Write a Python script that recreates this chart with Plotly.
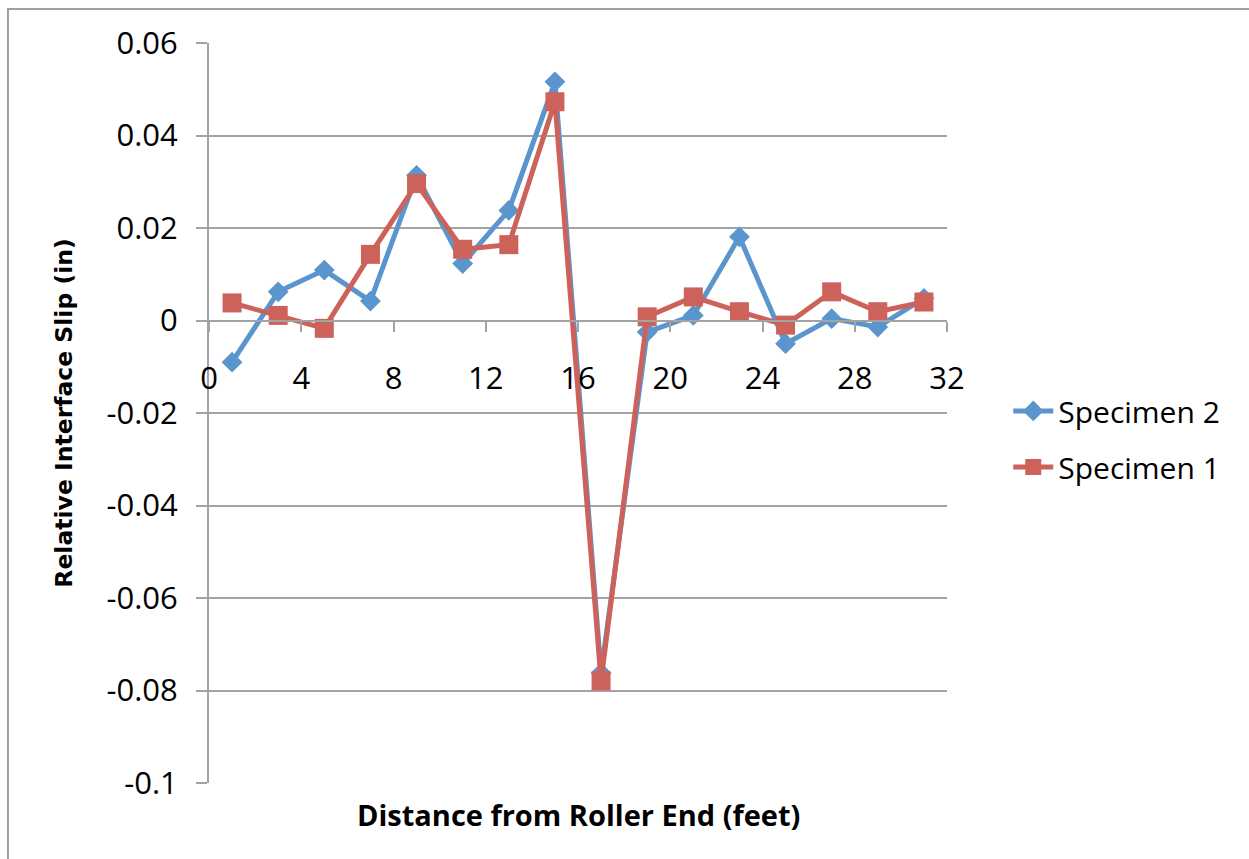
import plotly.graph_objects as go

# Station positions along the girder (feet from the roller end)
distance_ft = [1, 3, 5, 7, 9, 11, 13, 15, 17, 19, 21, 23, 25, 27, 29, 31]

# Relative interface slip (in)
specimen_2 = [-0.0090, 0.0062, 0.0109, 0.0042, 0.0314, 0.0123, 0.0238, 0.0516,
              -0.0762, -0.0025, 0.0011, 0.0181, -0.0050, 0.0004, -0.0014, 0.0048]
specimen_1 = [0.0038, 0.0011, -0.0017, 0.0143, 0.0296, 0.0154, 0.0164, 0.0473,
              -0.0779, 0.0008, 0.0051, 0.0019, -0.0010, 0.0062, 0.0019, 0.0040]

x_ticks = [0, 4, 8, 12, 16, 20, 24, 28, 32]
y_ticks = [-0.1, -0.08, -0.06, -0.04, -0.02, 0, 0.02, 0.04, 0.06]
y_tick_text = ["-0.1", "-0.08", "-0.06", "-0.04", "-0.02", "0", "0.02", "0.04", "0.06"]

BLUE = "#5B95CE"
RED = "#CD625A"
GRID = "#A3A3A3"
FONT = "Open Sans"

fig = go.Figure()
fig.add_trace(go.Scatter(
    x=distance_ft, y=specimen_2, name="Specimen 2", mode="lines+markers",
    line=dict(color=BLUE, width=5),
    marker=dict(symbol="diamond", size=16, color=BLUE),
    legendgroup="s2",
))
fig.add_trace(go.Scatter(
    x=distance_ft, y=specimen_1, name="Specimen 1", mode="lines+markers",
    line=dict(color=RED, width=5),
    marker=dict(symbol="square", size=19, color=RED),
    legendgroup="s1",
))

y_min, y_max = -0.1, 0.06
zero_pos = (0 - y_min) / (y_max - y_min)

fig.update_layout(
    width=1249, height=859,
    margin=dict(l=209, r=302, t=43, b=76),
    paper_bgcolor="white", plot_bgcolor="white",
    font=dict(family=FONT, size=30, color="black"),
    showlegend=True,
    legend=dict(
        x=1.083, xanchor="left", y=0.538, yanchor="top",
        font=dict(family=FONT, size=30, color="black"),
        traceorder="grouped", tracegroupgap=14,
        bgcolor="rgba(0,0,0,0)", itemwidth=40,
    ),
    xaxis=dict(
        range=[0, 32], tickvals=x_ticks, ticktext=[str(v) for v in x_ticks],
        anchor="free", position=zero_pos,
        showline=True, linecolor=GRID, linewidth=2,
        ticks="outside", ticklen=10, tickwidth=2, tickcolor=GRID,
        ticklabelstandoff=20,
        showgrid=False, zeroline=False,
        tickfont=dict(family=FONT, size=31),
    ),
    yaxis=dict(
        range=[y_min, y_max], tickvals=y_ticks, ticktext=y_tick_text,
        showline=True, linecolor=GRID, linewidth=2,
        ticks="outside", ticklen=11, tickwidth=2, tickcolor=GRID,
        ticklabelstandoff=12,
        showgrid=True, gridcolor=GRID, gridwidth=2, zeroline=False,
        tickfont=dict(family=FONT, size=31),
        title=dict(text="<b>Relative Interface Slip (in)</b>",
                   font=dict(family="DejaVu Sans", size=23.5), standoff=27),
    ),
    annotations=[dict(
        text="<b>Distance from Roller End (feet)</b>",
        xref="paper", yref="paper", x=0.5, y=-0.043,
        xanchor="center", yanchor="middle", showarrow=False,
        font=dict(family=FONT, size=29, color="black"),
    )],
    shapes=[dict(
        type="rect", xref="paper", yref="paper",
        x0=-0.2724, x1=1.6, y0=-0.3, y1=1.046,
        line=dict(color="#A0A0A0", width=2), fillcolor="rgba(0,0,0,0)",
        layer="below",
    )],
)

fig.write_html("out.html")
